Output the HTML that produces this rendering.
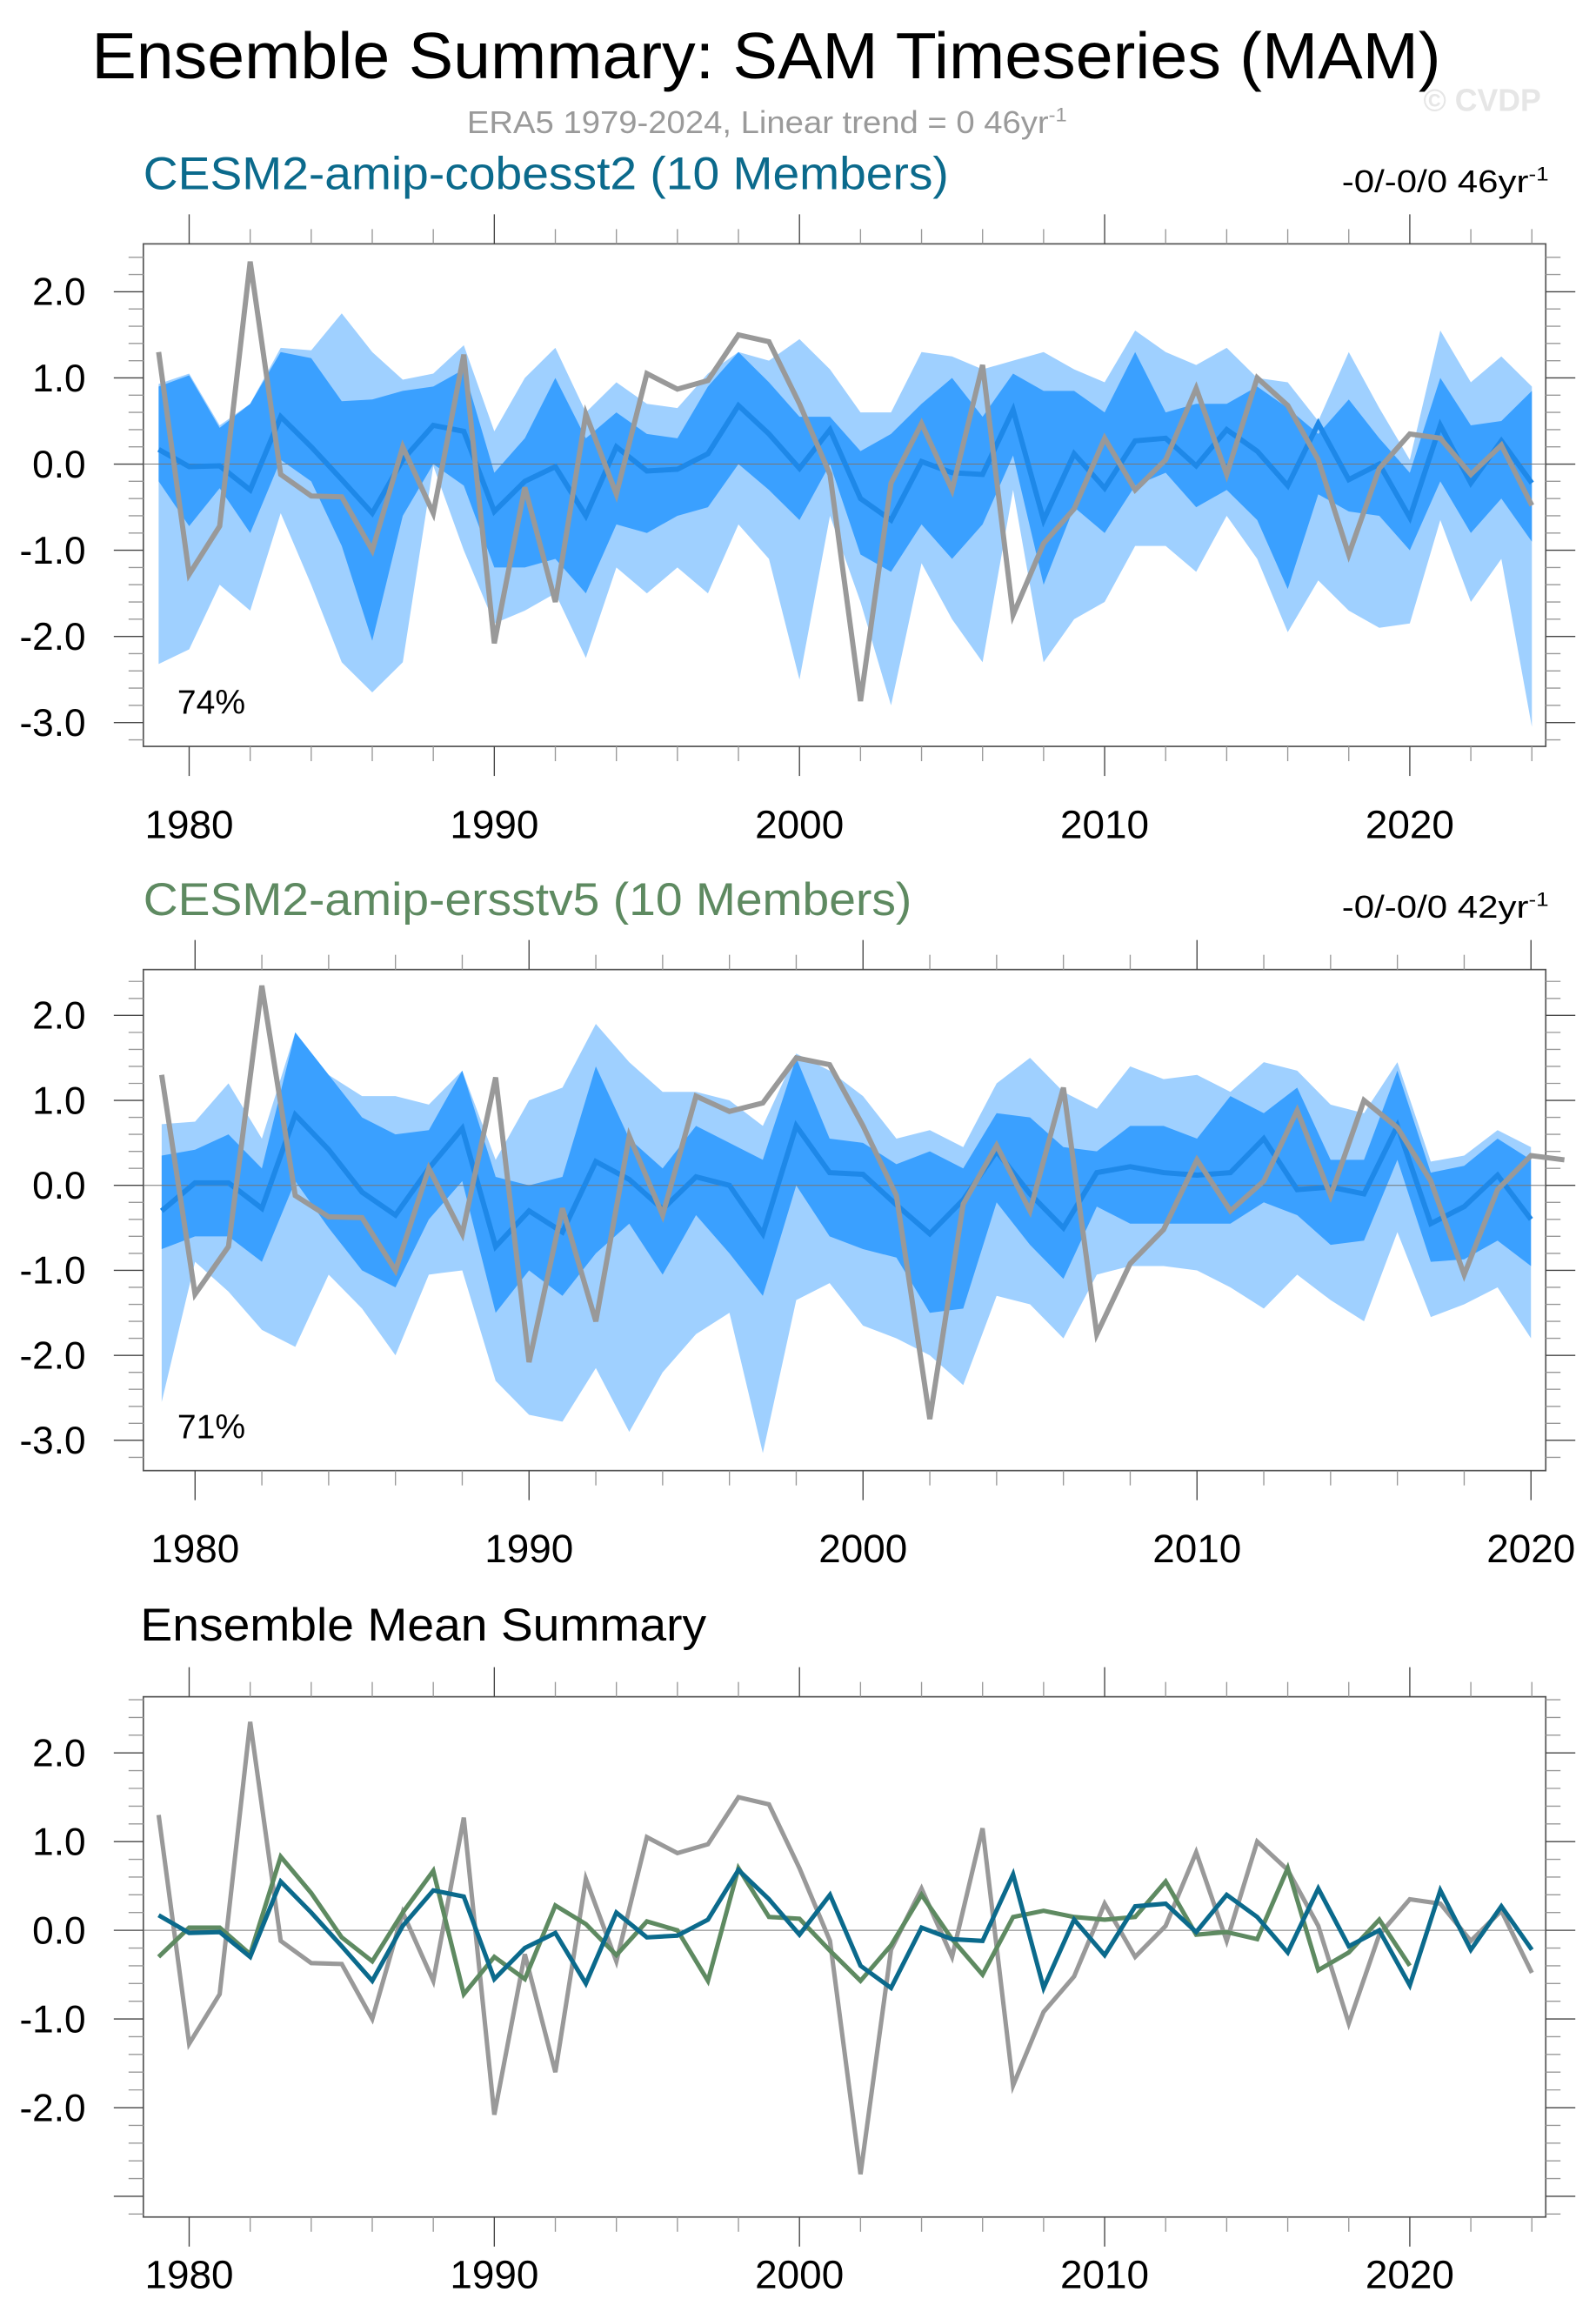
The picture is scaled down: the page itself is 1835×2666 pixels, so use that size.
<!DOCTYPE html>
<html><head><meta charset="utf-8"><style>
html,body{margin:0;padding:0;background:#fff;}
svg{display:block;font-family:"Liberation Sans",sans-serif;}
</style></head><body>
<svg id="chart" width="1835" height="2666" viewBox="0 0 1080 1569" preserveAspectRatio="none" xmlns="http://www.w3.org/2000/svg">
<text x="62" y="53" font-size="44" textLength="913" lengthAdjust="spacingAndGlyphs" fill="#000">Ensemble Summary: SAM Timeseries (MAM)</text>
<text x="316" y="90" font-size="21" textLength="406" lengthAdjust="spacingAndGlyphs" fill="#9a9a9a">ERA5 1979-2024, Linear trend = 0 46yr<tspan dy="-8" font-size="13">-1</tspan></text>
<text x="1003" y="75" font-size="21" font-weight="bold" text-anchor="middle" fill="#e6e6e6">© CVDP</text>
<text x="97" y="128" font-size="31" textLength="545" lengthAdjust="spacingAndGlyphs" fill="#0b6a8c">CESM2-amip-cobesst2 (10 Members)</text>
<text x="908" y="130" font-size="21" textLength="140" lengthAdjust="spacingAndGlyphs" fill="#000">-0/-0/0 46yr<tspan dy="-8" font-size="13">-1</tspan></text>
<text x="97" y="619" font-size="31" textLength="520" lengthAdjust="spacingAndGlyphs" fill="#5e8a61">CESM2-amip-ersstv5 (10 Members)</text>
<text x="908" y="621" font-size="21" textLength="140" lengthAdjust="spacingAndGlyphs" fill="#000">-0/-0/0 42yr<tspan dy="-8" font-size="13">-1</tspan></text>
<text x="95" y="1110" font-size="31" textLength="383" lengthAdjust="spacingAndGlyphs" fill="#000">Ensemble Mean Summary</text>
<g id="p1"></g><g id="p2"></g><g id="p3"></g>
</svg>
<script>
const yearsA = [];
for (let y = 1979; y <= 2024; y++) yearsA.push(y);
const yearsB = [];
for (let y = 1979; y <= 2020; y++) yearsB.push(y);
const yearsObs = yearsA;
const era5 = [1.3,-1.28,-0.72,2.35,-0.12,-0.37,-0.38,-1.0,0.2,-0.57,1.27,-2.08,-0.27,-1.6,0.58,-0.35,1.05,0.87,0.97,1.5,1.42,0.7,-0.12,-2.75,-0.22,0.47,-0.3,1.15,-1.75,-0.92,-0.52,0.3,-0.3,0.05,0.88,-0.12,1.0,0.68,0.05,-1.05,-0.05,0.35,0.3,-0.12,0.22,-0.48];
const cobMean = [0.17,-0.03,-0.02,-0.3,0.55,0.2,-0.18,-0.57,0.05,0.45,0.38,-0.55,-0.2,-0.03,-0.6,0.2,-0.08,-0.06,0.12,0.68,0.35,-0.05,0.4,-0.4,-0.65,0.03,-0.1,-0.12,0.63,-0.65,0.12,-0.28,0.27,0.3,-0.02,0.4,0.15,-0.25,0.47,-0.18,0.0,-0.62,0.45,-0.22,0.27,-0.22];
const cobLightHi = [0.93,1.05,0.45,0.7,1.35,1.32,1.75,1.3,0.98,1.05,1.38,0.38,1.0,1.35,0.6,0.95,0.7,0.65,1.05,1.3,1.2,1.45,1.1,0.6,0.6,1.3,1.25,1.1,1.2,1.3,1.1,0.95,1.55,1.3,1.15,1.35,1.0,0.95,0.5,1.3,0.65,0.05,1.55,0.95,1.25,0.9];
const cobDarkHi = [0.9,1.03,0.42,0.7,1.3,1.23,0.73,0.75,0.85,0.9,1.1,-0.1,0.3,1.0,0.3,0.6,0.35,0.3,0.9,1.3,0.95,0.55,0.55,0.15,0.35,0.7,1.0,0.55,1.05,0.85,0.85,0.6,1.3,0.6,0.7,0.7,0.9,0.65,0.35,0.75,0.3,-0.1,1.0,0.45,0.5,0.85];
const cobDarkLo = [-0.2,-0.72,-0.28,-0.8,0.05,-0.2,-0.95,-2.05,-0.6,0.0,-0.25,-1.2,-1.2,-1.1,-1.5,-0.7,-0.8,-0.6,-0.5,0.0,-0.3,-0.65,0.0,-1.05,-1.25,-0.7,-1.1,-0.7,0.1,-1.4,-0.5,-0.8,-0.25,-0.1,-0.5,-0.3,-0.65,-1.45,-0.35,-0.55,-0.6,-1.0,-0.2,-0.8,-0.4,-0.9];
const cobLightLo = [-2.32,-2.15,-1.4,-1.7,-0.57,-1.4,-2.3,-2.65,-2.3,-0.02,-1.0,-1.85,-1.7,-1.5,-2.25,-1.2,-1.5,-1.2,-1.5,-0.7,-1.1,-2.5,-0.6,-1.6,-2.8,-1.15,-1.8,-2.3,-0.3,-2.3,-1.8,-1.6,-0.95,-0.95,-1.25,-0.6,-1.1,-1.95,-1.35,-1.7,-1.9,-1.85,-0.65,-1.6,-1.1,-3.05];
const ersMean = [-0.3,0.03,0.03,-0.27,0.83,0.42,-0.08,-0.35,0.2,0.67,-0.72,-0.3,-0.55,0.28,0.07,-0.28,0.1,0.0,-0.57,0.7,0.15,0.13,-0.23,-0.57,-0.17,0.4,-0.1,-0.5,0.15,0.22,0.15,0.12,0.15,0.55,-0.05,-0.02,-0.1,0.7,-0.45,-0.25,0.12,-0.4];
const ersLightHi = [0.72,0.75,1.2,0.55,1.8,1.3,1.05,1.05,0.95,1.35,0.3,1.0,1.15,1.9,1.45,1.1,1.1,1.0,0.7,1.55,1.35,1.05,0.55,0.65,0.45,1.2,1.5,1.1,0.9,1.4,1.25,1.3,1.1,1.45,1.35,0.95,0.85,1.45,0.28,0.35,0.65,0.45];
const ersDarkHi = [0.35,0.42,0.6,0.2,1.8,1.3,0.8,0.6,0.65,1.35,0.1,0.0,0.1,1.4,0.55,0.2,0.7,0.5,0.3,1.5,0.55,0.5,0.25,0.4,0.2,0.85,0.8,0.45,0.4,0.7,0.7,0.55,1.05,0.85,1.15,0.3,0.3,1.35,0.15,0.23,0.55,0.3];
const ersDarkLo = [-0.75,-0.6,-0.6,-0.9,0.05,-0.5,-1.0,-1.2,-0.4,0.05,-1.5,-1.0,-1.3,-0.8,-0.45,-1.05,-0.35,-0.8,-1.3,0.0,-0.6,-0.75,-0.85,-1.5,-1.45,-0.2,-0.7,-1.1,-0.25,-0.45,-0.45,-0.45,-0.45,-0.2,-0.35,-0.7,-0.65,0.3,-0.9,-0.87,-0.65,-0.95];
const ersLightLo = [-2.55,-0.9,-1.25,-1.7,-1.9,-1.05,-1.45,-2.0,-1.05,-1.0,-2.3,-2.7,-2.78,-2.15,-2.9,-2.2,-1.75,-1.5,-3.15,-1.35,-1.15,-1.65,-1.8,-2.0,-2.35,-1.3,-1.4,-1.8,-1.05,-0.95,-0.95,-1.0,-1.2,-1.45,-1.05,-1.35,-1.6,-0.55,-1.55,-1.4,-1.2,-1.8];
const yTickLabels = ["2.0","1.0","0.0","-1.0","-2.0","-3.0"];
const yTickValues = [2,1,0,-1,-2,-3];
const xTickLabels = ["1980","1990","2000","2010","2020"];
const xTickValues = [1980,1990,2000,2010,2020];

const NS = "http://www.w3.org/2000/svg";
function mk(parent, tag, attrs) {
  const e = document.createElementNS(NS, tag);
  for (const k in attrs) e.setAttribute(k, attrs[k]);
  parent.appendChild(e);
  return e;
}
function makeAxes(g, cfg) {
  const xs = v => cfg.x0 + (v - cfg.y0yr) * cfg.dx;
  const ys = v => cfg.zero - v * cfg.dy;
  const frame = mk(g, "rect", {x: cfg.L, y: cfg.T, width: cfg.R - cfg.L, height: cfg.B - cfg.T, fill: "none", stroke: "#555", "stroke-width": 1});
  
  
  const zl = mk(g, "line", {x1: cfg.L, x2: cfg.R, y1: ys(0), y2: ys(0), stroke: "#777", "stroke-width": 0.6});
  
  
  for (let i = -17; i <= 14; i++) {
    const v = i * 0.2, y = ys(v);
    if (y < cfg.T + 2 || y > cfg.B - 2) continue;
    const major = Math.abs(v - Math.round(v)) < 1e-6;
    const len = major ? 20 : 10;
    mk(g, "line", {x1: cfg.L - len, x2: cfg.L, y1: y, y2: y, stroke: major ? "#444" : "#999", "stroke-width": 0.8});
    mk(g, "line", {x1: cfg.R, x2: cfg.R + len, y1: y, y2: y, stroke: major ? "#444" : "#999", "stroke-width": 0.8});
  }
  yTickValues.forEach((v, i) => {
    if (v < cfg.ymin) return;
    const t = mk(g, "text", {x: 58, y: ys(v) + 9, "font-size": 26, "text-anchor": "end", fill: "#000"});
    t.textContent = yTickLabels[i];
    
    
  });
  for (let yr = 1978; yr <= 2024; yr += 2) {
    const x = xs(yr);
    if (x < cfg.L || x > cfg.R) continue;
    const major = yr % 10 === 0;
    const len = major ? 20 : 10;
    mk(g, "line", {x1: x, x2: x, y1: cfg.T - len, y2: cfg.T, stroke: major ? "#444" : "#999", "stroke-width": 0.8});
    mk(g, "line", {x1: x, x2: x, y1: cfg.B, y2: cfg.B + len, stroke: major ? "#444" : "#999", "stroke-width": 0.8});
  }
  xTickValues.forEach((v, i) => {
    const t = mk(g, "text", {x: xs(v), y: cfg.B + cfg.lab, "font-size": 27, "text-anchor": "middle", fill: "#000"});
    t.textContent = xTickLabels[i];
    
    
  });
  return {xs, ys};
}
function band(g, years, hi, lo, color, xs, ys, name) {
  let d = "";
  years.forEach((yr, i) => d += (i ? "L" : "M") + xs(yr).toFixed(2) + "," + ys(hi[i]).toFixed(2));
  for (let i = years.length - 1; i >= 0; i--) d += "L" + xs(years[i]).toFixed(2) + "," + ys(lo[i]).toFixed(2);
  const p = mk(g, "path", {d: d + "Z", fill: color, stroke: "none"});
  
  
}
function line(g, years, vals, color, w, xs, ys, name) {
  const pts = years.map((yr, i) => xs(yr).toFixed(2) + "," + ys(vals[i]).toFixed(2)).join(" ");
  const p = mk(g, "polyline", {points: pts, fill: "none", stroke: color, "stroke-width": w, "stroke-linejoin": "miter"});
  
  
}
(function(){
  const g = document.getElementById("p1");
  
  
  const cfg = {L: 97, R: 1046, T: 165, B: 505, x0: 128, y0yr: 1980, dx: 20.65, zero: 314, dy: 58.3, ymin: -3, lab: 62};
  const xs = v => cfg.x0 + (v - cfg.y0yr) * cfg.dx, ys = v => cfg.zero - v * cfg.dy;
  band(g, yearsA, cobLightHi, cobLightLo, "#9fd0ff", xs, ys, "spread-band-outer");
  band(g, yearsA, cobDarkHi, cobDarkLo, "#3aa0ff", xs, ys, "spread-band-inner");
  makeAxes(g, cfg);
  line(g, yearsA, cobMean, "#1e88e8", 3.5, xs, ys, "ensemble-mean-line");
  line(g, yearsObs, era5, "#999999", 3.5, xs, ys, "era5-line");
  const t = mk(g, "text", {x: 120, y: 483, "font-size": 23, fill: "#000"});
  t.textContent = "74%";
  
  
})();
(function(){
  const g = document.getElementById("p2");
  
  
  const cfg = {L: 97, R: 1046, T: 656, B: 995, x0: 132, y0yr: 1980, dx: 22.6, zero: 802, dy: 57.5, ymin: -3, lab: 62};
  const xs = v => cfg.x0 + (v - cfg.y0yr) * cfg.dx, ys = v => cfg.zero - v * cfg.dy;
  band(g, yearsB, ersLightHi, ersLightLo, "#9fd0ff", xs, ys, "spread-band-outer");
  band(g, yearsB, ersDarkHi, ersDarkLo, "#3aa0ff", xs, ys, "spread-band-inner");
  makeAxes(g, cfg);
  line(g, yearsB, ersMean, "#1e88e8", 3.5, xs, ys, "ensemble-mean-line");
  const nObs = 43;
  line(g, yearsObs.slice(0, nObs), era5.slice(0, nObs), "#999999", 3.5, xs, ys, "era5-line");
  const t = mk(g, "text", {x: 120, y: 973, "font-size": 23, fill: "#000"});
  t.textContent = "71%";
  
  
})();
(function(){
  const g = document.getElementById("p3");
  
  
  const cfg = {L: 97, R: 1046, T: 1148, B: 1500, x0: 128, y0yr: 1980, dx: 20.65, zero: 1306, dy: 60, ymin: -2, lab: 48};
  const xs = v => cfg.x0 + (v - cfg.y0yr) * cfg.dx, ys = v => cfg.zero - v * cfg.dy;
  makeAxes(g, cfg);
  line(g, yearsObs, era5, "#999999", 3, xs, ys, "era5-line");
  line(g, yearsB, ersMean, "#5e8a61", 3, xs, ys, "ersstv5-mean-line");
  line(g, yearsA, cobMean, "#0b6a8c", 3, xs, ys, "cobesst2-mean-line");
})();
</script>
</body></html>
